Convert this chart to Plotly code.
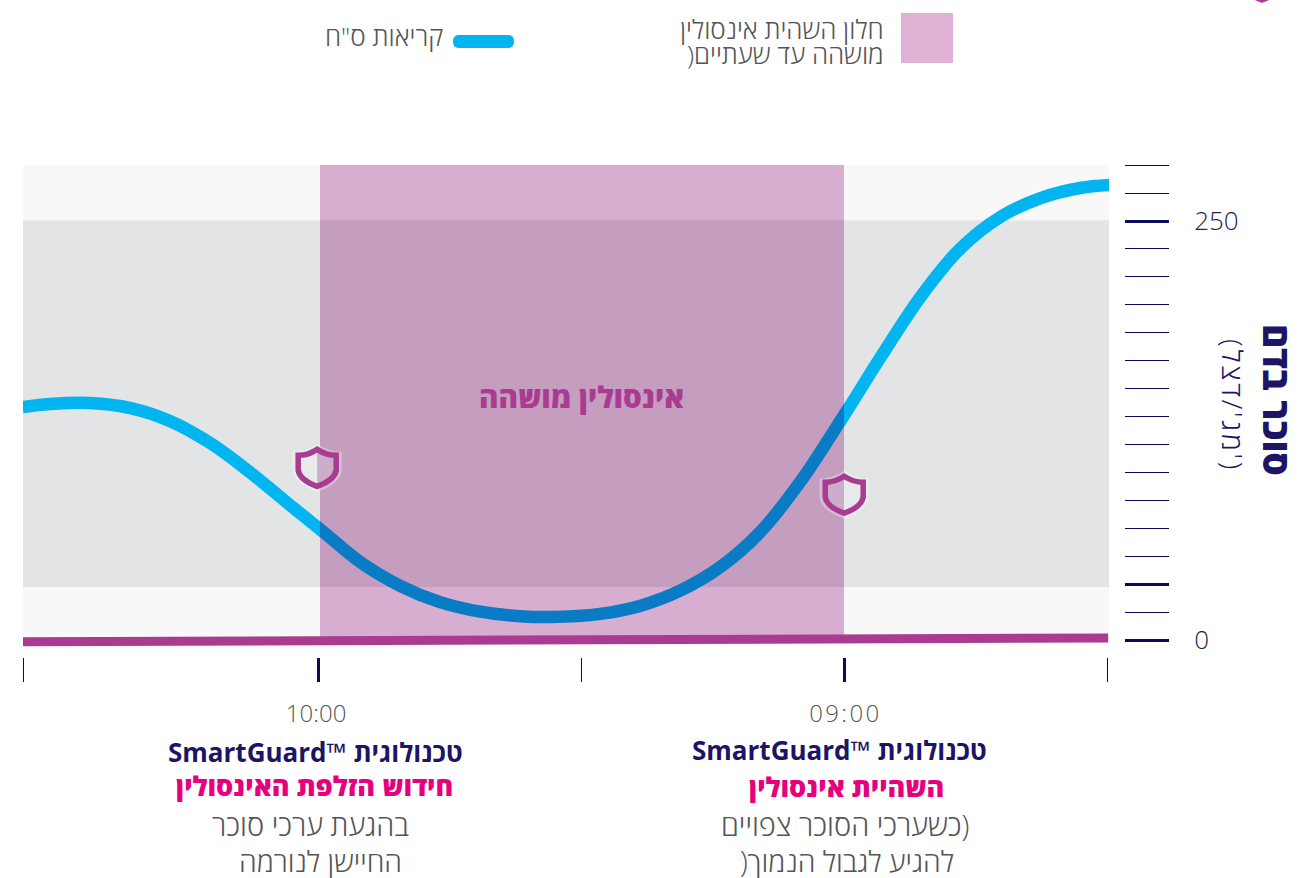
import plotly.graph_objects as go

W, H = 1315, 878

# ---- data ----
minutes = [93.7, 90.6, 86.0, 81.4, 76.9, 72.3, 67.8, 63.2, 59.8, 55.2, 50.6, 46.1, 41.5, 37.0, 33.5,
           27.8, 23.3, 18.7, 14.1, 9.6, 5.0, 0.0, -4.1, -8.7, -13.2, -17.8, -22.4, -26.9, -30.3]
glucose = [139, 140.8, 141.4, 138.4, 130.7, 117.5, 100.2, 80.5, 66.2, 46.5, 32.2, 22.6, 16.9, 14.2, 13.7,
           15.6, 20.3, 29.4, 43.6, 64.2, 94.3, 134.2, 168.3, 204.7, 233.3, 252.4, 263.7, 269.7, 271.5]
insulin_x = [93.7, -30.1]
insulin_y = [-1.1, 1.2]
shield_x = [60.1, 0.0]
shield_y = [103.0, 87.0]
band_low, band_high = 31.6, 250.4
window_start, window_end = 59.8, 0.0
x_major = [60, 0]
x_major_labels = ["10:00\u2009", "0\u200a9\u200a:\u200a0\u200a0"]
x_minor = [93.65, 30, -30]
y_major = [0, 33.3, 250]
y_major_labels = ["0", "", "250"]
y_minor = [16.7, 50, 66.7, 83.3, 100, 116.7, 133.3, 150, 166.7, 183.3, 200, 216.7, 233.3, 266.7, 283.3]

legend_window_l1 = "חלון השהית אינסולין"
legend_window_l2 = ")מושהה עד שעתיים"
legend_cgm = 'קריאות ס"ח'
window_label = "אינסולין מושהה"
y_title = "סוכר בדם"
y_unit = "\u200a".join("(מג'/דצל')")
brand = "SmartGuard™ טכנולוגית"
left_head, left_l1, left_l2 = "חידוש הזלפת האינסולין", "בהגעת ערכי סוכר", "החיישן לנורמה"
right_head, right_l1, right_l2 = "השהיית אינסולין", "כשערכי הסוכר צפויים)", ")להגיע לגבול הנמוך"

# ---- styles ----
NAVY = "#1c1464"
TICK = "#0c0a5a"
PINK = "#e6007e"
PURPLE = "#a93b90"
GREY = "#555555"
BLUE = "#00b5f0"
DARKBLUE = "#0a7cc6"
FONT = "Open Sans"

px = lambda v: v / W
py = lambda v: 1 - v / H
L, R, T, B = 23, 1109, 165, 650
y_to = lambda p: (640 - p) / 1.676
dom_x = [px(L), px(R)]
dom_y = [py(B), py(T)]
xr = [93.65, -30.2]
yr = [y_to(B), y_to(T)]
top = yr[1]

fig = go.Figure()
fig.add_trace(go.Scatter(x=minutes, y=glucose, mode="lines", xaxis="x", yaxis="y", showlegend=False,
                         line=dict(color=BLUE, width=12.5, shape="spline", smoothing=1)))
fig.add_trace(go.Scatter(x=minutes, y=glucose, mode="lines", xaxis="x2", yaxis="y2", showlegend=False,
                         line=dict(color=DARKBLUE, width=12.5, shape="spline", smoothing=1)))
fig.add_trace(go.Scatter(x=insulin_x, y=insulin_y, mode="lines", xaxis="x3", yaxis="y3", showlegend=False,
                         line=dict(color=PURPLE, width=9)))

shapes = []
def rect(xref, yref, x0, x1, y0, y1, color, layer="below"):
    shapes.append(dict(type="rect", xref=xref, yref=yref, x0=x0, x1=x1, y0=y0, y1=y1,
                       fillcolor=color, line_width=0, layer=layer))

rect("x", "y", xr[0], xr[1], 0, top, "#f8f8f8")
rect("x", "y", xr[0], xr[1], band_low, band_high, "#e3e4e6")
# window: the reference multiplies the pink over the bands, so each piece has its own colour
rect("x2", "y2", window_start, window_end, 0, top, "#d7add0")
rect("x2", "y2", window_start, window_end, band_low, band_high, "#c49dbf")

def shield_path(k=1.0, half=None):
    f = lambda a, b: f"{a*k:.1f} {-b*k:.1f}"
    right = f"Q {f(9,-12)} {f(19,-12)} L {f(19,3)} Q {f(17,13)} {f(0,19)}"
    left = f"Q {f(-17,13)} {f(-19,3)} L {f(-19,-12)} Q {f(-9,-12)} {f(0,-18)}"
    if half == "right":
        return f"M {f(0,-18)} {right} Z"
    if half == "left":
        return f"M {f(0,19)} {left} Z"
    return f"M {f(0,-18)} {right} {left} Z"

def shield(xa, ya, xref, yref, lcol, rcol):
    base = dict(type="path", xref=xref, yref=yref, xsizemode="pixel", ysizemode="pixel",
                xanchor=xa, yanchor=ya, layer="above")
    shapes.append(dict(base, path=shield_path(1.3), fillcolor="rgba(255,255,255,0.3)", line_width=0))
    shapes.append(dict(base, path=shield_path(1, "left"), fillcolor=lcol, line_width=0))
    shapes.append(dict(base, path=shield_path(1, "right"), fillcolor=rcol, line_width=0))
    shapes.append(dict(base, path=shield_path(1), fillcolor="rgba(0,0,0,0)", line=dict(color=PURPLE, width=5.5)))

shield(shield_x[0], shield_y[0], "x3", "y3", "#e8eaeb", "#ccaecb")
shield(shield_x[1], shield_y[1], "x3", "y3", "#ccaecb", "#e8eaeb")
shield(px(1262), py(-19), "paper", "paper", "#ffffff", "#ffffff")

# legend swatches
shapes.append(dict(type="rect", xref="paper", yref="paper", x0=px(901), x1=px(953), y0=py(63), y1=py(13),
                   fillcolor="#deb1d5", line_width=0))
shapes.append(dict(type="path", xref="paper", yref="paper", xsizemode="pixel", ysizemode="pixel",
                   xanchor=px(483.5), yanchor=py(41.5), fillcolor=BLUE, line_width=0,
                   path="M -25 6.5 L 25 6.5 Q 30.5 6.5 30.5 0 Q 30.5 -6.5 25 -6.5 L -25 -6.5 Q -30.5 -6.5 -30.5 0 Q -30.5 6.5 -25 6.5 Z"))

ann = []
def text(x, y, s, size, color, bold=False, anchor="center", angle=0, align="center", weight=None):
    ann.append(dict(xref="paper", yref="paper", x=px(x), y=py(y), text=s, showarrow=False, xanchor=anchor,
                    yanchor="middle", align=align, textangle=angle,
                    font=dict(family=FONT, size=size, color=color, weight=weight or (700 if bold else 300))))

text(886, 29, legend_window_l1, 26, GREY, anchor="right", align="right")
text(886, 54, legend_window_l2, 26, GREY, anchor="right", align="right")
text(445, 36, legend_cgm, 26, GREY, anchor="right")
text(581, 397, window_label, 29.6, PURPLE, weight=800)
text(1233, 404, y_unit, 28, NAVY, angle=90)
text(1278, 400, y_title, 37, NAVY, weight=800, angle=90)

text(315, 752, brand, 26, NAVY, weight=700)
text(314, 785.5, left_head, 27, PINK, weight=800)
text(310, 824, left_l1, 29, GREY)
text(320, 861, left_l2, 28.5, GREY)
text(839, 750, brand, 26, NAVY, weight=700)
text(846, 786, right_head, 27, PINK, weight=800)
text(845, 824.5, right_l1, 29, GREY)
text(847, 861, right_l2, 28.5, GREY)

hidden = dict(visible=False, fixedrange=True)
fig.update_layout(
    width=W, height=H, autosize=False, margin=dict(l=0, r=0, t=0, b=0, pad=0, autoexpand=False),
    paper_bgcolor="white", plot_bgcolor="rgba(0,0,0,0)", showlegend=False,
    font=dict(family=FONT),
    shapes=shapes, annotations=ann,
    xaxis=dict(domain=dom_x, range=xr, anchor="free", position=py(657), side="bottom", showgrid=False,
               zeroline=False, showline=False, ticks="outside", ticklen=24, tickwidth=3, tickcolor=TICK,
               tickmode="array", tickvals=x_major, ticktext=x_major_labels, ticklabelstandoff=11,
               tickfont=dict(family=FONT, size=24, color=GREY, weight=300),
               minor=dict(tickmode="array", tickvals=x_minor, ticks="outside", ticklen=24, tickwidth=1.2,
                          tickcolor=TICK, showgrid=False)),
    yaxis=dict(domain=dom_y, range=yr, anchor="free", position=px(1124), side="right", showgrid=False,
               zeroline=False, showline=False, ticks="outside", ticklen=44, tickwidth=3, tickcolor=TICK,
               tickmode="array", tickvals=y_major, ticktext=y_major_labels, ticklabelstandoff=20,
               tickfont=dict(family=FONT, size=26, color="#1f2452", weight=300),
               minor=dict(tickmode="array", tickvals=y_minor, ticks="outside", ticklen=44, tickwidth=1.2,
                          tickcolor=TICK, showgrid=False)),
    xaxis2=dict(hidden, domain=[px(320), px(844)], range=[window_start, window_end], anchor="y2"),
    yaxis2=dict(hidden, domain=dom_y, range=yr, anchor="x2"),
    xaxis3=dict(hidden, domain=dom_x, range=xr, anchor="y3"),
    yaxis3=dict(hidden, domain=dom_y, range=yr, anchor="x3"),
)

fig.write_html("out.html", config=dict(displayModeBar=False),
               post_script="""
var s=document.documentElement.style, b=document.body.style;
s.margin='0'; s.overflow='hidden'; b.margin='0'; b.overflow='hidden';
""")
